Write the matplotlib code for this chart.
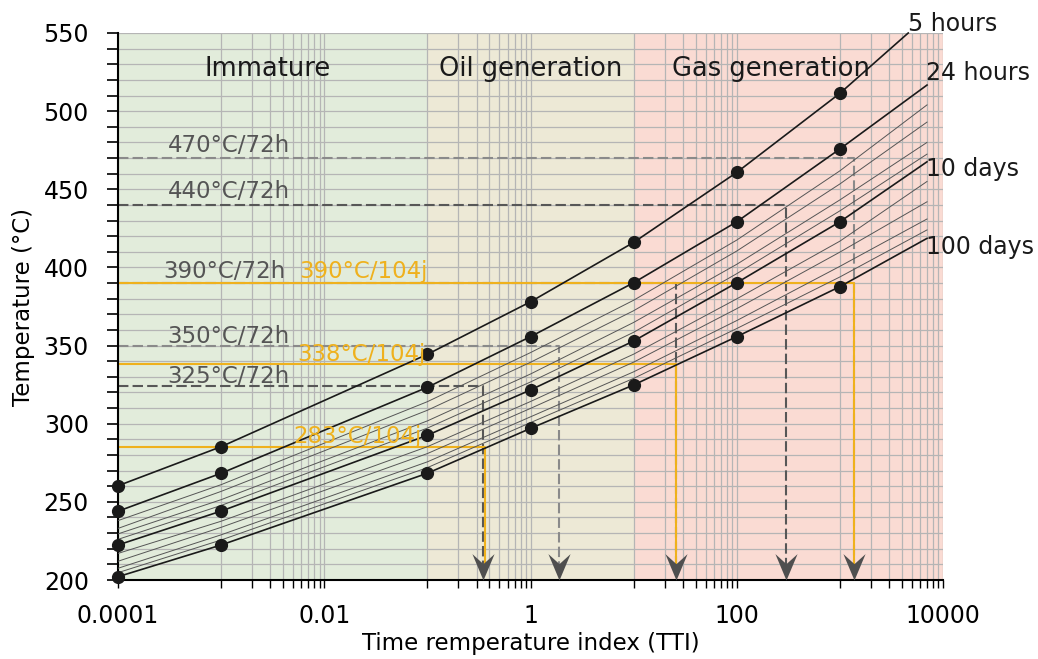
import matplotlib.pyplot as plt
import numpy as np
from matplotlib.path import Path
from matplotlib.ticker import FixedLocator, MultipleLocator

# TTI positions of the dots, plus the right end of the lines
tti_dots = [1e-4, 1e-3, 0.1, 1, 10, 100, 1000]
tti_end_5h = 4600
tti_end = 7000

# main curves (temperature in degC at tti_dots, then at the line end)
t_5h = [260.3, 285.3, 344.4, 378.0, 416.0, 460.8, 511.4, 550.0]
t_24h = [244.0, 268.3, 323.3, 355.7, 390.2, 429.2, 475.8, 516.7]
t_10d = [222.4, 244.1, 292.6, 321.6, 352.9, 390.2, 429.2, 467.6]
t_100d = [202.1, 222.4, 268.3, 297.0, 324.8, 355.7, 387.7, 418.6]
curve_names = ["5 hours", "24 hours", "10 days", "100 days"]

# thin intermediate curves, no dots
thin_a1 = [238.0, 261.0, 314.1, 345.5, 379.0, 417.5, 461.8, 504.0]
thin_a2 = [233.0, 256.7, 308.6, 339.3, 372.3, 410.5, 453.4, 493.0]
thin_a3 = [229.5, 251.4, 301.8, 331.8, 364.8, 402.0, 443.2, 480.0]
thin_a4 = [226.0, 247.7, 297.2, 326.7, 358.5, 396.0, 436.2, 472.5]
thin_b1 = [217.0, 237.6, 285.3, 314.2, 344.5, 379.9, 416.8, 455.0]
thin_b2 = [212.0, 233.7, 280.9, 309.8, 339.4, 373.6, 409.8, 442.0]
thin_b3 = [207.5, 228.9, 275.6, 304.4, 333.2, 366.0, 400.7, 431.0]
thin_b4 = [204.7, 225.6, 271.9, 300.7, 329.0, 360.9, 393.9, 424.0]

# 72h experiments (grey dashed) and 104j experiments (yellow)
exp72_t = [470, 440, 390, 350, 324]
exp72_tti = [1377, 301, 25.8, 1.89, 0.345]
exp72_labels = ["470°C/72h", "440°C/72h", "390°C/72h", "350°C/72h", "325°C/72h"]
exp104_t = [390, 338, 285]
exp104_tti = [1377, 25.8, 0.36]
exp104_labels = ["390°C/104j", "338°C/104j", "283°C/104j"]

# maturity zones
zone_names = ["Immature", "Oil generation", "Gas generation"]
zone_edges = [1e-4, 0.1, 10, 1e4]
zone_colors = ["#e2ecdb", "#ede9d6", "#fadbd3"]

yellow = "#efb11d"
grey_dark = "#575757"
grey_light = "#8a8a8a"

fig = plt.figure(figsize=(10.38, 6.59), dpi=100)
ax = fig.add_axes([118 / 1038, 1 - 580 / 659, 825 / 1038, 547 / 659])
ax.set_xscale("log")
ax.set_xlim(1e-4, 1e4)
ax.set_ylim(200, 550)

# zone backgrounds and labels
for i in range(3):
    ax.axvspan(zone_edges[i], zone_edges[i + 1], color=zone_colors[i], zorder=0, lw=0)
zone_x = [2.85e-3, 1.0, 216]
for name, x in zip(zone_names, zone_x):
    ax.text(x, 522.5, name, fontsize=18.5, ha="center", va="baseline",
            color="#1a1a1a", zorder=6)

# grid
ax.set_axisbelow(True)
ax.xaxis.set_major_locator(FixedLocator([10.0 ** e for e in range(-4, 5)]))
minor_x = [m * 10.0 ** e for e in (-3, -1, 1, 3) for m in range(2, 10)]
ax.xaxis.set_minor_locator(FixedLocator(minor_x))
ax.set_xticklabels(["0.0001", "", "0.01", "", "1", "", "100", "", "10000"])
ax.xaxis.set_minor_formatter(plt.NullFormatter())
ax.yaxis.set_major_locator(MultipleLocator(50))
ax.yaxis.set_minor_locator(MultipleLocator(10))
ax.grid(which="both", color="#b5b5b5", lw=0.9)

# arrow head marker, tip at the point
head = Path([(0, 0), (-0.42, 1), (0, 0.62), (0.42, 1), (0, 0)],
            [Path.MOVETO, Path.LINETO, Path.LINETO, Path.LINETO, Path.CLOSEPOLY])

# grey dashed 72h lines
shades = [grey_light, grey_dark, grey_dark, grey_light, grey_dark]
for t, x, c in zip(exp72_t, exp72_tti, shades):
    ax.plot([1e-4, x, x], [t, t, 206], color=c, lw=1.5, ls=(0, (5, 2)), zorder=2)
    ax.plot(x, 200, marker=head, ms=38, color="#4f4f4f", mec="none", zorder=4,
            clip_on=False)

# yellow 104j lines
for t, x in zip(exp104_t, exp104_tti):
    ax.plot([1e-4, x, x], [t, t, 206], color=yellow, lw=1.5, zorder=2.5)

# experiment labels
lab72_x = [3.05e-4, 3.05e-4, 2.73e-4, 3.0e-4, 3.0e-4]
lab72_y = [474, 444.6, 393, 351.4, 325.8]
for s, x, y in zip(exp72_labels, lab72_x, lab72_y):
    ax.text(x, y, s, fontsize=16.5, color="#555555", va="baseline", zorder=6)
lab104_x = [5.7e-3, 5.45e-3, 4.98e-3]
lab104_y = [393, 340.3, 287.5]
for s, x, y in zip(exp104_labels, lab104_x, lab104_y):
    ax.text(x, y, s, fontsize=16.5, color=yellow, va="baseline", zorder=6)

# thin curves
tti_line = tti_dots + [tti_end]
for t in [thin_a1, thin_a2, thin_a3, thin_a4, thin_b1, thin_b2, thin_b3, thin_b4]:
    ax.plot(tti_line, t, color="#555555", lw=0.7, zorder=3)

# main curves with dots
mains = [t_5h, t_24h, t_10d, t_100d]
ends = [tti_end_5h, tti_end, tti_end, tti_end]
for t, e in zip(mains, ends):
    ax.plot(tti_dots + [e], t, color="#1a1a1a", lw=1.2, zorder=3, clip_on=False)
    ax.plot(tti_dots, t[:7], "o", color="#1a1a1a", ms=8.5, zorder=5, clip_on=False)

label_x = [4590, 6870, 6870, 6870]
label_y = [551, 520, 458.7, 408.6]
for s, x, y in zip(curve_names, label_x, label_y):
    ax.text(x, y, s, fontsize=17, color="#1a1a1a", va="baseline", zorder=6,
            clip_on=False)

# axes look
for side in ["top", "right"]:
    ax.spines[side].set_visible(False)
ax.spines["left"].set_linewidth(1.5)
ax.spines["bottom"].set_linewidth(1.5)
ax.tick_params(axis="y", which="both", direction="out", length=8, width=1.2,
               labelsize=17, pad=13)
ax.tick_params(axis="x", which="both", direction="out", length=6, width=1.0,
               labelsize=17, pad=11)
ax.set_xlabel("Time remperature index (TTI)", fontsize=16.5, labelpad=3)
ax.set_ylabel("Temperature (°C)", fontsize=16.5, labelpad=6)

plt.savefig("out.png", dpi=100)
